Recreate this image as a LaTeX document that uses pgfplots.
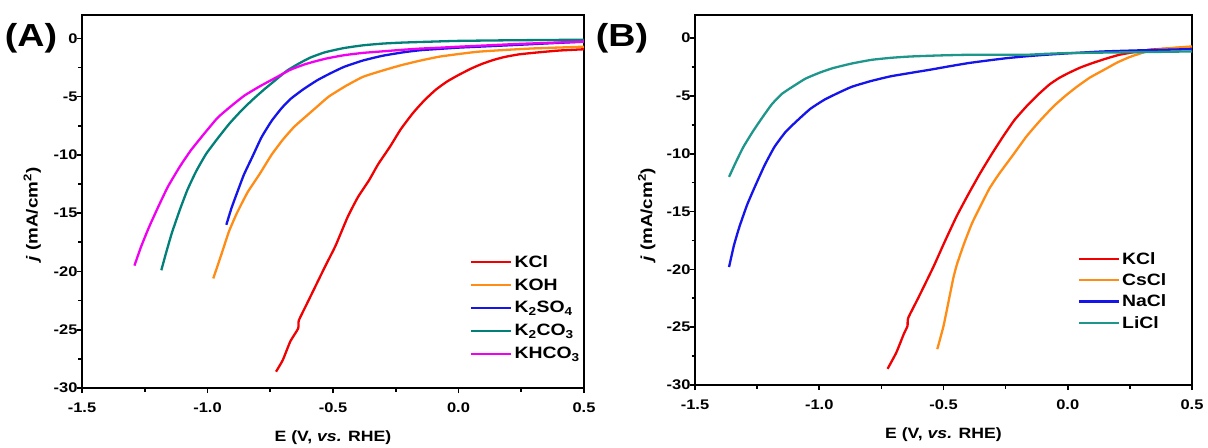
\documentclass[border=0pt]{standalone}
\usepackage{pgfplots}
\pgfplotsset{compat=1.18}
\usepackage{fontspec}
\setmainfont{Liberation Sans}[FakeStretch=1.18]
\definecolor{cred}{RGB}{240,0,0}
\definecolor{corange}{RGB}{255,140,20}
\definecolor{cblue}{RGB}{20,20,235}
\definecolor{cteal}{RGB}{0,128,120}
\definecolor{cteal2}{RGB}{30,150,140}
\definecolor{cmag}{RGB}{240,0,240}
\pgfplotsset{
  myaxis/.style={
    scale only axis,
    anchor=south west,
    xmin=-1.5, xmax=0.5, ymin=-30, ymax=2,
    xtick={-1.5,-1,-0.5,0,0.5},
    ytick={-30,-25,-20,-15,-10,-5,0},
    minor x tick num=1, minor y tick num=1,
    tick pos=left, tick align=outside,
    major tick length=5bp, minor tick length=3.5bp,
    axis line style={line width=2bp},
    every tick/.style={line width=1.6bp, black},
    /pgf/number format/assume math mode=true,
    tick label style={font=\bfseries\fontsize{14}{14}\selectfont},
    x tick label style={yshift=-6bp, /pgf/number format/.cd, fixed, fixed zerofill, precision=1},
    y tick label style={xshift=4bp, /pgf/number format/.cd, fixed, precision=0},
    xlabel style={font=\bfseries\fontsize{15}{15}\selectfont},
    ylabel style={font=\bfseries\fontsize{16}{16}\selectfont},
    xlabel={E (V, \textit{vs.} RHE)},
    ylabel={\textit{j} (mA/cm\textsuperscript{2})},
    every axis plot/.append style={line width=2.3bp, no marks, smooth, tension=0.3},
    legend style={draw=none, fill=none, font=\bfseries\fontsize{16.5}{16.5}\selectfont,
      anchor=north west, row sep=4bp, inner sep=0pt},
    legend cell align=left,
    legend image code/.code={\draw[#1, line width=2.3bp] (0bp,0bp) -- (40bp,0bp);},
  }
}
\begin{document}
\begin{tikzpicture}
\useasboundingbox (0,0) rectangle (1208bp,448bp);
\begin{axis}[myaxis, at={(82bp,60bp)}, width=502bp, height=373bp,
  xlabel style={at={(axis description cs:0.5,-0.134)}, anchor=center},
  ylabel style={at={(axis description cs:-0.099,0.465)}, anchor=center},
  legend style={at={(rel axis cs:0.773,0.362)}, row sep=6bp}]
\addplot[cred] coordinates {(-0.727,-28.6)(-0.70,-27.6)(-0.67,-26.0)(-0.639,-24.9)(-0.636,-24.2)(-0.60,-22.6)(-0.532,-19.6)(-0.49,-17.8)(-0.441,-15.3)(-0.40,-13.6)(-0.357,-12.2)(-0.32,-10.8)(-0.273,-9.3)(-0.23,-7.8)(-0.181,-6.4)(-0.135,-5.3)(-0.090,-4.4)(-0.045,-3.7)(0.0,-3.15)(0.05,-2.6)(0.093,-2.2)(0.14,-1.85)(0.184,-1.6)(0.24,-1.38)(0.306,-1.23)(0.40,-1.05)(0.5,-0.94)};
\addlegendentry{KCl}
\addplot[corange] coordinates {(-0.977,-20.6)(-0.944,-18.5)(-0.915,-16.6)(-0.883,-15.0)(-0.84,-13.2)(-0.791,-11.6)(-0.745,-10.0)(-0.700,-8.7)(-0.655,-7.6)(-0.608,-6.7)(-0.56,-5.8)(-0.517,-5.0)(-0.45,-4.1)(-0.380,-3.3)(-0.30,-2.75)(-0.227,-2.3)(-0.15,-1.9)(-0.075,-1.57)(0.0,-1.35)(0.078,-1.15)(0.2,-0.98)(0.306,-0.86)(0.5,-0.72)};
\addlegendentry{KOH}
\addplot[cblue] coordinates {(-0.925,-16.0)(-0.905,-14.6)(-0.883,-13.3)(-0.855,-11.7)(-0.822,-10.2)(-0.785,-8.5)(-0.745,-7.1)(-0.705,-6.0)(-0.669,-5.2)(-0.62,-4.4)(-0.563,-3.6)(-0.51,-3.0)(-0.456,-2.45)(-0.38,-1.9)(-0.303,-1.5)(-0.22,-1.2)(-0.151,-1.02)(-0.07,-0.9)(0.0,-0.8)(0.1,-0.7)(0.229,-0.57)(0.37,-0.42)(0.5,-0.29)};
\addlegendentry{K\textsubscript{2}SO\textsubscript{4}}
\addplot[cteal] coordinates {(-1.184,-19.9)(-1.165,-18.4)(-1.142,-16.7)(-1.11,-14.7)(-1.080,-13.0)(-1.045,-11.4)(-1.005,-9.9)(-0.96,-8.6)(-0.912,-7.3)(-0.865,-6.2)(-0.822,-5.3)(-0.775,-4.4)(-0.730,-3.6)(-0.685,-2.8)(-0.639,-2.2)(-0.59,-1.65)(-0.532,-1.2)(-0.46,-0.85)(-0.380,-0.6)(-0.30,-0.45)(-0.227,-0.37)(-0.1,-0.28)(0.0,-0.22)(0.2,-0.17)(0.5,-0.12)};
\addlegendentry{K\textsubscript{2}CO\textsubscript{3}}
\addplot[cmag] coordinates {(-1.291,-19.5)(-1.265,-17.9)(-1.233,-16.2)(-1.195,-14.4)(-1.157,-12.7)(-1.11,-11.0)(-1.066,-9.6)(-1.01,-8.1)(-0.959,-6.8)(-0.905,-5.8)(-0.852,-4.9)(-0.79,-4.1)(-0.730,-3.4)(-0.67,-2.7)(-0.608,-2.2)(-0.53,-1.75)(-0.456,-1.45)(-0.38,-1.25)(-0.303,-1.12)(-0.22,-0.98)(-0.151,-0.88)(-0.07,-0.8)(0.0,-0.72)(0.1,-0.62)(0.229,-0.49)(0.37,-0.38)(0.5,-0.28)};
\addlegendentry{KHCO\textsubscript{3}}
\end{axis}
\begin{axis}[myaxis, at={(695bp,63bp)}, width=497bp, height=370bp,
  xlabel style={at={(axis description cs:0.5,-0.135)}, anchor=center},
  ylabel style={at={(axis description cs:-0.097,0.46)}, anchor=center},
  legend style={at={(rel axis cs:0.77,0.365)}}]
\addplot[cred] coordinates {(-0.725,-28.6)(-0.69,-27.2)(-0.66,-25.6)(-0.645,-24.9)(-0.642,-24.2)(-0.60,-22.4)(-0.541,-19.8)(-0.495,-17.6)(-0.447,-15.4)(-0.40,-13.5)(-0.353,-11.7)(-0.305,-10.0)(-0.260,-8.5)(-0.215,-7.1)(-0.166,-5.9)(-0.12,-4.9)(-0.073,-4.0)(-0.035,-3.45)(0.005,-3.0)(0.05,-2.55)(0.099,-2.16)(0.15,-1.8)(0.208,-1.44)(0.27,-1.2)(0.333,-1.0)(0.42,-0.88)(0.5,-0.8)};
\addlegendentry{KCl}
\addplot[corange] coordinates {(-0.525,-26.9)(-0.50,-24.9)(-0.478,-22.6)(-0.46,-20.7)(-0.445,-19.5)(-0.416,-17.7)(-0.385,-16.0)(-0.353,-14.6)(-0.315,-13.0)(-0.275,-11.7)(-0.22,-10.1)(-0.166,-8.5)(-0.11,-7.1)(-0.057,-5.9)(-0.01,-5.0)(0.037,-4.2)(0.09,-3.4)(0.146,-2.74)(0.20,-2.1)(0.255,-1.59)(0.333,-1.07)(0.42,-0.85)(0.5,-0.72)};
\addlegendentry{CsCl}
\addplot[cblue] coordinates {(-1.363,-19.8)(-1.343,-17.9)(-1.321,-16.3)(-1.29,-14.4)(-1.258,-12.8)(-1.22,-11.0)(-1.180,-9.4)(-1.135,-8.1)(-1.087,-7.1)(-1.035,-6.1)(-0.977,-5.3)(-0.92,-4.7)(-0.868,-4.2)(-0.79,-3.7)(-0.712,-3.3)(-0.63,-3.0)(-0.556,-2.74)(-0.48,-2.45)(-0.400,-2.16)(-0.32,-1.93)(-0.244,-1.73)(-0.166,-1.57)(-0.088,-1.44)(0.03,-1.28)(0.146,-1.15)(0.3,-1.05)(0.5,-0.95)};
\addlegendentry{NaCl}
\addplot[cteal2] coordinates {(-1.363,-12.0)(-1.335,-10.7)(-1.305,-9.4)(-1.265,-8.0)(-1.227,-6.8)(-1.19,-5.7)(-1.149,-4.8)(-1.10,-4.1)(-1.055,-3.5)(-1.0,-3.0)(-0.946,-2.6)(-0.87,-2.2)(-0.790,-1.88)(-0.71,-1.7)(-0.634,-1.59)(-0.52,-1.5)(-0.400,-1.44)(-0.28,-1.44)(-0.166,-1.44)(-0.09,-1.36)(-0.010,-1.30)(0.15,-1.25)(0.302,-1.21)(0.5,-1.15)};
\addlegendentry{LiCl}
\end{axis}
\node[font=\bfseries\fontsize{32}{32}\selectfont] at (31bp,410bp) {(A)};
\node[font=\bfseries\fontsize{32}{32}\selectfont] at (622bp,410bp) {(B)};
\end{tikzpicture}
\end{document}
